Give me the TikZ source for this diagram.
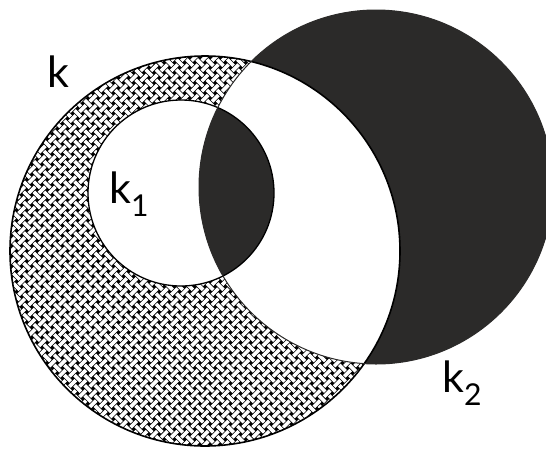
\documentclass[tikz,border=0pt]{standalone}
\usepackage{fontspec}
\setmainfont{Lato}
\definecolor{darkfill}{HTML}{2B2A29}
\tikzset{
  ustrip/.style={white, line width=3.6pt, line cap=butt, dash pattern=on 9pt off 5.4pt},
  rim/.style={black, line width=1.6pt}
}
\begin{document}
\begin{tikzpicture}[x=1pt, y=-1pt, lbl/.style={inner sep=0pt, anchor=base west, font=\fontsize{43}{48}\selectfont}]
    \useasboundingbox (0,0) rectangle (546,448);
    \clip (0,0) rectangle (546,448);
    \coordinate (ck) at (205,251);
    \coordinate (ck1) at (181,193);
    \coordinate (ck2) at (376,187);
    \def\rk{195}
    \def\rka{93}
    \def\rkb{177}

    % Kreis k2 (dunkel)
    \fill[darkfill] (ck2) circle (\rkb);
    \fill[white] (ck) circle (\rk);

    % Geflecht: k ohne k1 und k2
    \begin{scope}[even odd rule]
        \clip (ck) circle (\rk) (ck1) circle (\rka);
        \clip (-10,-10) rectangle (560,460) (ck2) circle (\rkb);
        \fill[black] (ck) circle (\rk);
        \begin{scope}[shift={(ck)}, rotate=45]
            \foreach \i in {-30,-28,...,30} {
                \draw[ustrip, dash phase=4.5pt] (-216,\i*7.2) -- (216,\i*7.2);
                \draw[ustrip, dash phase=11.7pt] (-216,{(\i+1)*7.2}) -- (216,{(\i+1)*7.2});
                \draw[ustrip, dash phase=11.7pt] (\i*7.2,-216) -- (\i*7.2,216);
                \draw[ustrip, dash phase=4.5pt] ({(\i+1)*7.2},-216) -- ({(\i+1)*7.2},216);
            }
        \end{scope}
    \end{scope}

    % Schnitt k1 und k2
    \begin{scope}
        \clip (ck1) circle (\rka);
        \fill[darkfill] (ck2) circle (\rkb);
    \end{scope}

    % Ränder
    \draw[rim] (ck) circle (\rk);
    \draw[rim, line width=1.3pt] (ck1) circle (\rka);
    \draw[darkfill, line width=1pt] (ck2) circle (\rkb);

    \node[lbl] (lk) at (47,87) {k};
    \node[lbl] (lka) at (109,203) {k\textsubscript{1}};
    \node[lbl] (lkb) at (442,392) {k\textsubscript{2}};
\end{tikzpicture}
\end{document}
